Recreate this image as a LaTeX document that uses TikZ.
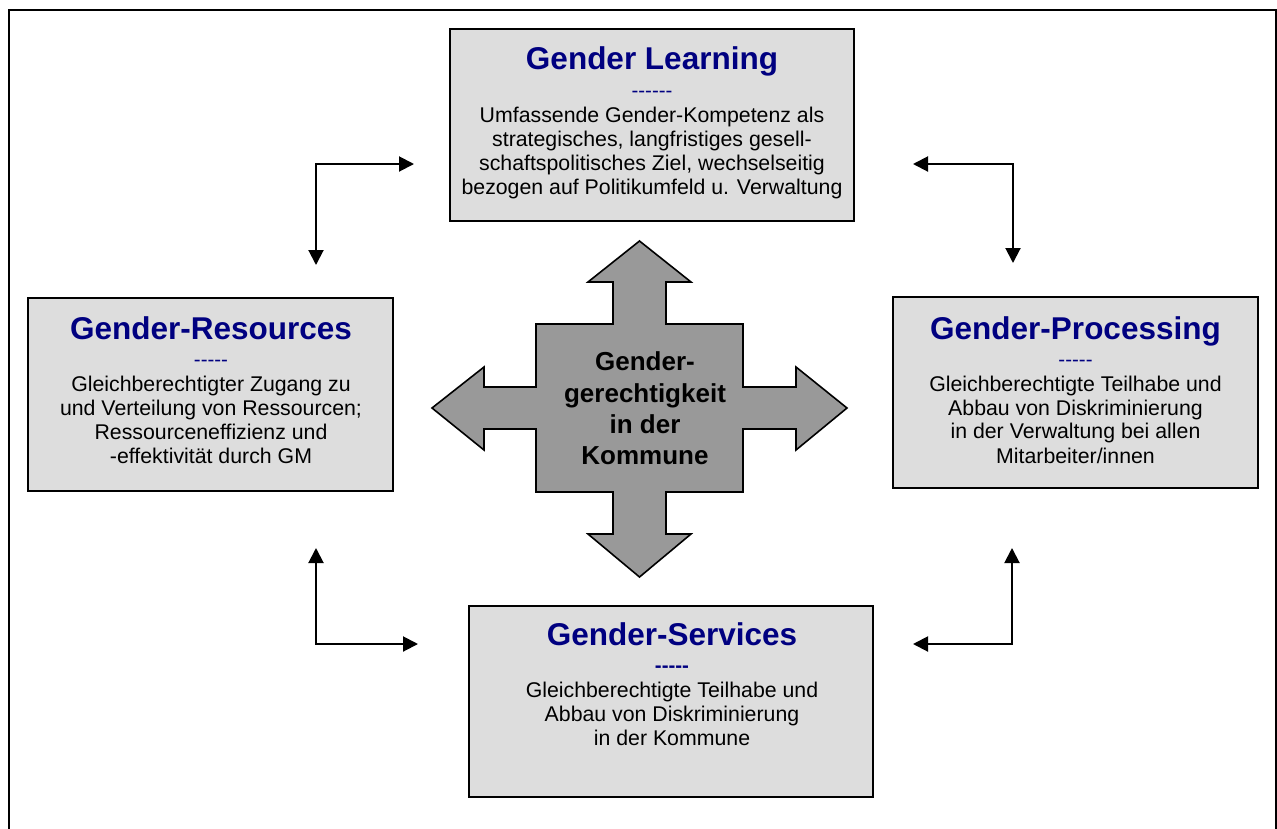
\documentclass[tikz,border=0pt]{standalone}
\usepackage{fontspec}
\setmainfont{Liberation Sans}
\usetikzlibrary{arrows.meta}
\definecolor{boxgray}{HTML}{DDDDDD}
\definecolor{crossgray}{HTML}{999999}
\definecolor{titleblue}{HTML}{000080}
\newcommand\hyph{\mbox{-}}
\tikzset{
  box/.style={draw=black, line width=1.6pt, fill=boxgray, inner sep=0pt},
  ttl/.style={anchor=base, inner sep=0pt, text=titleblue, font=\fontsize{31.5}{36}\selectfont\bfseries},
  dsh/.style={anchor=base, inner sep=0pt, text=titleblue, font=\fontsize{20.5}{24}\selectfont},
  dshb/.style={anchor=base, inner sep=0pt, text=titleblue, font=\fontsize{20.5}{24}\selectfont\bfseries},
  body/.style={anchor=base, inner sep=0pt, font=\fontsize{21.3}{24}\selectfont},
  ctr/.style={anchor=base, inner sep=0pt, font=\fontsize{26}{31}\selectfont\bfseries},
  conn/.style={line width=2pt, {Triangle[length=15pt,width=15pt]}-{Triangle[length=15pt,width=15pt]}},
}
\begin{document}
\begin{tikzpicture}[x=1pt,y=-1pt]
\useasboundingbox (0,0) rectangle (1277,828);
% outer frame (bottom edge outside the picture)
\draw[line width=1.6pt] (9,840) -- (9,10) -- (1276,10) -- (1276,840);

% boxes
\node[box, minimum width=404pt, minimum height=192pt] (learn) at (652,125) {};
\node[box, minimum width=365pt, minimum height=193pt] (res) at (210.5,394.5) {};
\node[box, minimum width=365pt, minimum height=191pt] (proc) at (1075.5,392.5) {};
\node[box, minimum width=404pt, minimum height=191pt] (serv) at (671,701.5) {};

% Gender Learning texts
\node[ttl] (learnT) at (652,69) {Gender Learning};
\node[dsh] (learnD) at (652,97) {\hyph\hyph\hyph\hyph\hyph\hyph};
\node[body] (learn1) at (652,122) {Umfassende Gender-Kompetenz als};
\node[body] (learn2) at (652,146) {strategisches, langfristiges gesell-};
\node[body] (learn3) at (652,170) {schaftspolitisches Ziel, wechselseitig};
\node[body] (learn4) at (652,194) {bezogen auf Politikumfeld u. Verwaltung};

% Gender-Resources texts
\node[ttl] (resT) at (211,339) {Gender-Resources};
\node[dsh] (resD) at (211,366) {\hyph\hyph\hyph\hyph\hyph};
\node[body] (res1) at (211,391) {Gleichberechtigter Zugang zu};
\node[body] (res2) at (211,415) {und Verteilung von Ressourcen;};
\node[body] (res3) at (211,439) {Ressourceneffizienz und};
\node[body] (res4) at (211,463) {-effektivität durch GM};

% Gender-Processing texts
\node[ttl] (procT) at (1075.5,339) {Gender-Processing};
\node[dsh] (procD) at (1075.5,366) {\hyph\hyph\hyph\hyph\hyph};
\node[body] (proc1) at (1075.5,391) {Gleichberechtigte Teilhabe und};
\node[body] (proc2) at (1075.5,415) {Abbau von Diskriminierung};
\node[body] (proc3) at (1075.5,438) {in der Verwaltung bei allen};
\node[body] (proc4) at (1075.5,463) {Mitarbeiter/innen};

% Gender-Services texts
\node[ttl] (servT) at (672,645) {Gender-Services};
\node[dshb] (servD) at (672,672) {\hyph\hyph\hyph\hyph\hyph};
\node[body] (serv1) at (672,697) {Gleichberechtigte Teilhabe und};
\node[body] (serv2) at (672,721) {Abbau von Diskriminierung};
\node[body] (serv3) at (672,745) {in der Kommune};

% central cross arrow
\draw[line width=1.6pt, fill=crossgray, line join=miter]
  (639.5,241) -- (691,282) -- (666,282) -- (666,324) -- (743,324) -- (743,387)
  -- (796,387) -- (796,367) -- (847,408) -- (796,450) -- (796,429) -- (743,429)
  -- (743,492) -- (666,492) -- (666,534) -- (691,534) -- (639.5,577) -- (588,534)
  -- (613,534) -- (613,492) -- (536,492) -- (536,429) -- (484,429) -- (484,450)
  -- (432,408) -- (484,367) -- (484,387) -- (536,387) -- (536,324) -- (613,324)
  -- (613,282) -- (588,282) -- cycle;
\node[ctr] (c1) at (645,370) {Gender-};
\node[ctr] (c2) at (645,402) {gerechtigkeit};
\node[ctr] (c3) at (645,433) {in der};
\node[ctr] (c4) at (645,464) {Kommune};

% corner connectors
\coordinate (tlA) at (414,164); \coordinate (tlC) at (316,164); \coordinate (tlB) at (316,265);
\coordinate (trA) at (913,164); \coordinate (trC) at (1013,164); \coordinate (trB) at (1013,263);
\coordinate (blA) at (316,548); \coordinate (blC) at (316,644); \coordinate (blB) at (418,644);
\coordinate (brA) at (1012,548); \coordinate (brC) at (1012,644); \coordinate (brB) at (913,644);
\draw[conn] (tlA) -- (tlC) -- (tlB);
\draw[conn] (trA) -- (trC) -- (trB);
\draw[conn] (blA) -- (blC) -- (blB);
\draw[conn] (brA) -- (brC) -- (brB);
\end{tikzpicture}
\end{document}
